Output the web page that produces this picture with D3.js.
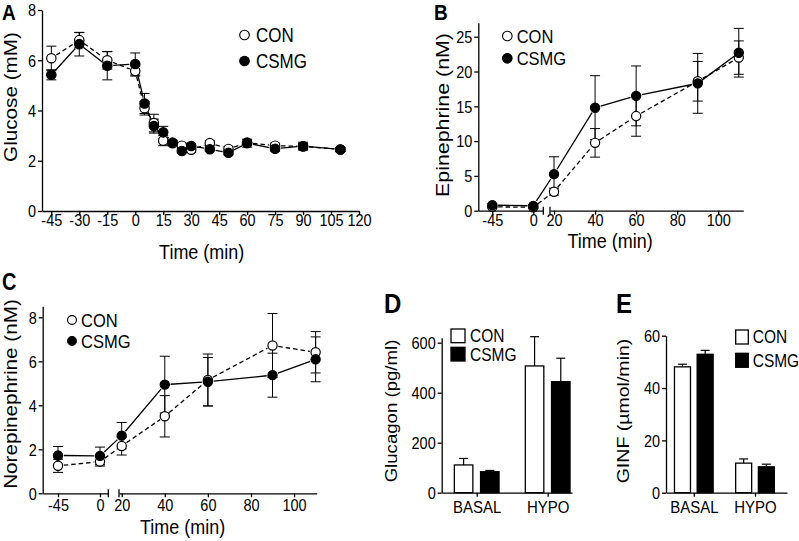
<!DOCTYPE html>
<html><head><meta charset="utf-8">
<script src="https://cdn.jsdelivr.net/npm/d3@7"></script>
<style>body{margin:0;background:#fff}svg{display:block}text{font-family:"Liberation Sans",Arial,Helvetica,sans-serif;fill:#000}</style>
</head><body><svg id="c" width="799" height="541"></svg>
<script>
// ---------- DATA ----------
const seriesNames = ["CON", "CSMG"];
// Panel A: Glucose (mM)
const timeA = [-45, -30, -15, 0, 5, 10, 15, 20, 25, 30, 40, 50, 60, 75, 90, 110];
const conA = [6.08, 6.8, 6.0, 5.57, 4.09, 3.5, 2.8, 2.7, 2.6, 2.44, 2.7, 2.47, 2.72, 2.6, 2.57, 2.45];
const conAerr = [0.48, 0.3, 0.35, 0.2, 0.27, 0.35, 0.2, 0.1, 0.1, 0.1, 0.1, 0.1, 0.12, 0.1, 0.12, 0.08];
const csmgA = [5.42, 6.64, 5.78, 5.85, 4.28, 3.38, 3.13, 2.72, 2.39, 2.59, 2.46, 2.32, 2.7, 2.48, 2.58, 2.45];
const csmgAerr = [0.2, 0.47, 0.56, 0.44, 0.4, 0.28, 0.24, 0.1, 0.08, 0.1, 0.08, 0.08, 0.16, 0.1, 0.16, 0.08];
const xTicksA = [-45, -30, -15, 0, 15, 30, 45, 60, 75, 90, 105, 120];
const yTicksA = [0, 2, 4, 6, 8];
// Panel B: Epinephrine (nM)
const timeB = [-45, 0, 20, 40, 60, 90, 110];
const conB = [0.55, 0.5, 2.73, 9.75, 13.6, 18.6, 22.0];
const conBerr = [0.15, 0.15, 0.5, 2.05, 2.9, 2.85, 2.4];
const csmgB = [0.8, 0.7, 5.25, 14.8, 16.5, 18.3, 22.7];
const csmgBerr = [0.2, 0.2, 2.5, 4.6, 4.3, 4.3, 3.5];
const yTicksB = [0, 5, 10, 15, 20, 25];
// Panel C: Norepinephrine (nM)
const timeC = [-45, 0, 20, 40, 60, 90, 110];
const conC = [1.25, 1.44, 2.15, 3.5, 5.15, 6.72, 6.41];
const conCerr = [0.3, 0.2, 0.41, 0.94, 1.18, 1.45, 0.94];
const csmgC = [1.72, 1.7, 2.62, 4.94, 5.07, 5.37, 6.09];
const csmgCerr = [0.41, 0.4, 0.6, 1.29, 1.1, 1.0, 1.02];
const yTicksC = [0, 2, 4, 6, 8];
const xTicksSeg1 = [-45, 0];
const xTicksSeg2 = [20, 40, 60, 80, 100];
// Panel D: Glucagon (pg/ml)
const groups = ["BASAL", "HYPO"];
const conD = [111, 507];
const conDerr = [26, 117];
const csmgD = [84, 444];
const csmgDerr = [5, 94];
const yTicksD = [0, 200, 400, 600];
// Panel E: GINF (µmol/min)
const conE = [48.1, 11.3];
const conEerr = [1.0, 1.6];
const csmgE = [52.9, 9.9];
const csmgEerr = [1.5, 1.0];
const yTicksE = [0, 20, 40, 60];

// ---------- HELPERS ----------
const svg = d3.select("#c");
const S = 1.15; // vertical stretch of the original figure

function label(x, y, str, fs, opts = {}) {
  const t = svg.append("text")
    .attr("transform", `translate(${x},${y})` + (opts.rot ? ` rotate(-90) scale(${S},1)` : ` scale(1,${S})`))
    .attr("text-anchor", opts.anchor || "start")
    .attr("font-size", fs)
    .text(str);
  if (opts.bold) t.attr("font-weight", "bold");
  return t;
}

function styleAxis(g, fs, isX, base) {
  g.attr("font-family", null).attr("font-size", null);
  g.select(".domain").attr("stroke", "#000").attr("stroke-width", 1.3);
  g.selectAll(".tick line").attr("stroke", "#000").attr("stroke-width", 1.3);
  const t = g.selectAll(".tick text").attr("fill", "#000").attr("font-size", fs);
  if (isX) t.attr("dy", 0).attr("y", base / S).attr("transform", `scale(1,${S})`);
  else t.attr("dy", "0.35em").attr("transform", `scale(1,${S})`);
}

function yAxis(y, x0, ticks, fs) {
  const g = svg.append("g").attr("transform", `translate(${x0},0)`)
    .call(d3.axisLeft(y).tickValues(ticks).tickSize(4).tickPadding(2).tickSizeOuter(0).tickFormat(d => String(d)));
  styleAxis(g, fs, false);
}
function xAxis(x, y0, ticks, fs, base) {
  const g = svg.append("g").attr("transform", `translate(0,${y0})`)
    .call(d3.axisBottom(x).tickValues(ticks).tickSize(4).tickSizeOuter(0).tickFormat(d => String(d)));
  styleAxis(g, fs, true, base);
  return g;
}
function brokenX(seg1, seg2, y0, fs, base) {
  xAxis(seg1, y0, xTicksSeg1, fs, base);
  xAxis(seg2, y0, xTicksSeg2, fs, base);
  [seg1.range()[1], seg2.range()[0]].forEach(px => {
    svg.append("line").attr("x1", px).attr("x2", px).attr("y1", y0 - 4).attr("y2", y0 + 4)
      .attr("stroke", "#000").attr("stroke-width", 1.3);
  });
}

function linePanel(P) {
  const g = svg.append("g");
  const r = P.r, gap = r + 1.2;
  P.series.forEach(s => {
    const pts = P.t.map((t, i) => [P.x(t), P.y(s.v[i])]);
    for (let i = 0; i < pts.length - 1; i++) {
      const [x1, y1] = pts[i], [x2, y2] = pts[i + 1];
      const dx = x2 - x1, dy = y2 - y1, L = Math.hypot(dx, dy);
      if (L <= 2 * gap + 1) continue;
      const ux = dx / L, uy = dy / L;
      g.append("line")
        .attr("x1", x1 + ux * gap).attr("y1", y1 + uy * gap)
        .attr("x2", x2 - ux * gap).attr("y2", y2 - uy * gap)
        .attr("stroke", "#000").attr("stroke-width", 1.3)
        .attr("stroke-dasharray", s.open ? "4.5,3" : null);
    }
  });
  P.series.forEach(s => {
    P.t.forEach((t, i) => {
      const cx = P.x(t), yt = P.y(s.v[i] + s.e[i]), yb = P.y(s.v[i] - s.e[i]);
      g.append("line").attr("x1", cx).attr("x2", cx).attr("y1", yt).attr("y2", yb).attr("stroke", "#000").attr("stroke-width", 1);
      [yt, yb].forEach(yy => g.append("line").attr("x1", cx - 5).attr("x2", cx + 5).attr("y1", yy).attr("y2", yy).attr("stroke", "#000").attr("stroke-width", 1));
    });
  });
  P.series.forEach(s => {
    g.selectAll(null).data(P.t).enter().append("circle")
      .attr("cx", t => P.x(t)).attr("cy", (t, i) => P.y(s.v[i])).attr("r", r)
      .attr("fill", s.open ? "#fff" : "#000").attr("stroke", "#000").attr("stroke-width", 1.2);
  });
}

function lineLegend(cx, cy1, cy2, tx, fs, r) {
  [[cy1, true, seriesNames[0]], [cy2, false, seriesNames[1]]].forEach(([cy, open, name]) => {
    svg.append("circle").attr("cx", cx).attr("cy", cy).attr("r", r)
      .attr("fill", open ? "#fff" : "#000").attr("stroke", "#000").attr("stroke-width", 1.1);
    label(tx, cy + fs * 0.36 * S, name, fs);
  });
}

function barPanel(P) {
  const g = svg.append("g");
  P.series.forEach((s, k) => {
    const name = seriesNames[k];
    groups.forEach((c, i) => {
      const x0 = P.xc(c) + P.inner(name), w = P.inner.bandwidth();
      const cx = x0 + w / 2;
      g.append("line").attr("x1", cx).attr("x2", cx).attr("y1", P.y(s.v[i])).attr("y2", P.y(s.v[i] + s.e[i]))
        .attr("stroke", "#000").attr("stroke-width", 1.2);
      g.append("line").attr("x1", cx - 4.5).attr("x2", cx + 4.5).attr("y1", P.y(s.v[i] + s.e[i])).attr("y2", P.y(s.v[i] + s.e[i]))
        .attr("stroke", "#000").attr("stroke-width", 1.2);
      g.append("rect").attr("x", x0).attr("width", w).attr("y", P.y(s.v[i])).attr("height", P.y(0) - P.y(s.v[i]))
        .attr("fill", s.fill).attr("stroke", "#000").attr("stroke-width", 1.3);
    });
  });
}
function barLegend(x, y1, y2, w, h, tx, fs) {
  [[y1, "#fff", seriesNames[0]], [y2, "#000", seriesNames[1]]].forEach(([yy, f, name]) => {
    svg.append("rect").attr("x", x).attr("y", yy).attr("width", w).attr("height", h)
      .attr("fill", f).attr("stroke", "#000").attr("stroke-width", 1.3);
    label(tx, yy + h / 2 + fs * 0.36 * S, name, fs);
  });
}

// ---------- PANEL A ----------
{
  const x = d3.scaleLinear().domain([-50, 120]).range([42, 359]);
  const y = d3.scaleLinear().domain([0, 8]).range([211, 10]);
  linePanel({ x, y, t: timeA, r: 4.7, series: [
    { v: conA, e: conAerr, open: true }, { v: csmgA, e: csmgAerr, open: false }] });
  yAxis(y, 42, yTicksA, 14.5);
  xAxis(x, 211, xTicksA, 14.5, 15.5);
  label(201.7, 259, "Time (min)", 18, { anchor: "middle" });
  label(16.5, 97, "Glucose (mM)", 18, { anchor: "middle", rot: true });
  lineLegend(244.5, 35, 61, 256, 17, 4.8);
  label(2, 20, "A", 19, { bold: true });
}
// ---------- PANEL B ----------
{
  const s1 = d3.scaleLinear().domain([-60.4, 11]).range([478.3, 543.3]);
  const s2 = d3.scaleLinear().domain([18.05, 112.2]).range([550, 743.3]);
  const x = t => (t <= 10 ? s1(t) : s2(t));
  const y = d3.scaleLinear().domain([0, 27]).range([210.7, 22.8]);
  linePanel({ x, y, t: timeB, r: 4.6, series: [
    { v: conB, e: conBerr, open: true }, { v: csmgB, e: csmgBerr, open: false }] });
  yAxis(y, 478.3, yTicksB, 14.5);
  brokenX(s1, s2, 210.7, 14.5, 15.5);
  label(610, 248, "Time (min)", 18, { anchor: "middle" });
  label(448.5, 115, "Epinephrine (nM)", 18.6, { anchor: "middle", rot: true });
  lineLegend(507.3, 36, 58.3, 516.7, 16.5, 4.8);
  label(434, 20, "B", 19, { bold: true });
}
// ---------- PANEL C ----------
{
  const s1 = d3.scaleLinear().domain([-61.4, 8.9]).range([42.7, 108.3]);
  const s2 = d3.scaleLinear().domain([18.75, 110.5]).range([119, 316.7]);
  const x = t => (t <= 10 ? s1(t) : s2(t));
  const y = d3.scaleLinear().domain([0, 8.5]).range([493.3, 306.3]);
  linePanel({ x, y, t: timeC, r: 4.6, series: [
    { v: conC, e: conCerr, open: true }, { v: csmgC, e: csmgCerr, open: false }] });
  yAxis(y, 42.7, yTicksC, 14.5);
  brokenX(s1, s2, 493.3, 14.5, 17.5);
  label(182.5, 533.5, "Time (min)", 18, { anchor: "middle" });
  label(16.5, 394, "Norepinephrine (nM)", 18, { anchor: "middle", rot: true });
  lineLegend(72, 320, 341, 81, 16.5, 4.4);
  label(2, 290, "C", 20, { bold: true });
}
// ---------- PANEL D ----------
{
  const y = d3.scaleLinear().domain([0, 620]).range([492.7, 337.7]);
  const xc = d3.scalePoint().domain(groups).range([441.7, 572]).padding(0.418).align(0.59);
  const inner = d3.scaleBand().domain(seriesNames).range([-22.35, 22.35]).paddingInner(0.294);
  barPanel({ y, xc, inner, series: [{ v: conD, e: conDerr, fill: "#fff" }, { v: csmgD, e: csmgDerr, fill: "#000" }] });
  yAxis(y, 441.7, yTicksD, 14.5);
  xAxis(xc, 492.7, groups, 15, 20.5);
  label(397, 411, "Glucagon (pg/ml)", 16.2, { anchor: "middle", rot: true });
  barLegend(451, 329, 347.3, 14, 13.7, 470, 15.5);
  label(384, 313, "D", 24, { bold: true });
}
// ---------- PANEL E ----------
{
  const y = d3.scaleLinear().domain([0, 60]).range([492.7, 335.7]);
  const xc = d3.scalePoint().domain(groups).range([666, 787]).padding(0.4886).align(0.465);
  const inner = d3.scaleBand().domain(seriesNames).range([-19.35, 19.35]).paddingInner(0.295);
  barPanel({ y, xc, inner, series: [{ v: conE, e: conEerr, fill: "#fff" }, { v: csmgE, e: csmgEerr, fill: "#000" }] });
  yAxis(y, 666, yTicksE, 14.5);
  xAxis(xc, 492.7, groups, 15, 20.5);
  label(628.5, 411, "GINF (µmol/min)", 17, { anchor: "middle", rot: true });
  barLegend(735.7, 330, 353.3, 12.6, 14, 752.7, 15.5);
  label(616, 313, "E", 24, { bold: true });
}
</script></body></html>
